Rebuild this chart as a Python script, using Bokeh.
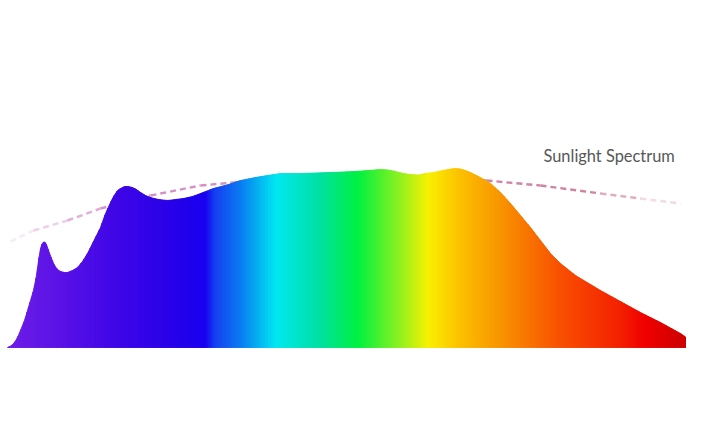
import numpy as np
from bokeh.plotting import figure
from bokeh.models import Range1d
from bokeh.core.properties import value
from bokeh.embed import file_html
from bokeh.resources import INLINE

# Spectrum curve (x in px-like units, y = height, screen coordinates)
spec_x = [7, 11, 14, 17, 20, 24, 27, 30, 33, 36, 38, 40, 42, 44, 46, 48, 51, 54, 57, 60,
          64, 67, 72, 77, 82, 87, 93, 100, 105, 110, 113, 117, 120, 124, 128, 132, 136,
          140, 145, 150, 158, 167, 175, 183, 192, 200, 213, 228, 240, 255, 267, 280, 300,
          330, 355, 380, 388, 395, 403, 410, 418, 425, 433, 440, 445, 450, 455, 460, 465,
          470, 475, 480, 485, 490, 500, 510, 520, 530, 540, 550, 560, 570, 575, 580, 590,
          600, 610, 620, 630, 640, 650, 660, 670, 680, 690, 700]
spec_y = [347, 345, 342, 337, 330, 320, 310, 300, 290, 275, 260, 248, 242, 241, 244, 250,
          258, 265, 269, 271, 272, 272, 270, 267, 261, 253, 241, 227, 213, 202, 196, 190,
          188, 186, 186, 187, 189, 192, 195, 197, 199, 200, 199, 198, 196, 193, 188, 184,
          180, 177, 175, 173, 173, 172, 171, 169, 169.5, 171, 173, 174, 174.5, 173, 172,
          170.5, 169.5, 168.5, 168, 168.5, 170, 172, 174.5, 177, 180, 183, 192, 203, 215,
          227, 240, 253, 263, 271, 275, 278, 284, 290, 295.5, 301, 306.5, 312, 317, 322,
          327.5, 333, 340, 347]
baseline = 347

# gradient colour stops along x
stop_x = [7, 60, 120, 180, 205, 215, 240, 276, 320, 358, 400, 428, 460, 500, 560, 620, 645, 700]
stop_c = ["#6e1ee6", "#5a12e6", "#3d05e6", "#2400ea", "#1800f0", "#1640f0", "#0a7af0",
          "#00e8f0", "#00e0a0", "#00f040", "#90f020", "#f8f000", "#fcc000", "#f89400",
          "#f85000", "#f42000", "#f00000", "#c00000"]

# sunlight reference curve
sun_x = [10, 33, 67, 100, 150, 200, 233, 300, 360, 420, 486, 540, 600, 640, 680]
sun_y = [241, 230, 220, 208, 195, 185, 182, 176, 174, 176, 180, 185, 193, 198, 203]
sun_c0 = "#d897d6"
sun_c1 = "#cc7f96"

label_text = "Sunlight Spectrum"


def hex2rgb(h):
    h = h.lstrip("#")
    return np.array([int(h[i:i + 2], 16) for i in (0, 2, 4)], dtype=float)


stop_rgb = np.array([hex2rgb(c) for c in stop_c])


def color_at(x):
    r = np.interp(x, stop_x, stop_rgb[:, 0])
    g = np.interp(x, stop_x, stop_rgb[:, 1])
    b = np.interp(x, stop_x, stop_rgb[:, 2])
    return "#%02x%02x%02x" % (int(round(r)), int(round(g)), int(round(b)))


W, H = 686, 410
p = figure(width=W, height=H, output_backend="svg", toolbar_location=None,
           x_range=Range1d(0, W), y_range=Range1d(H, 0), min_border=0)
p.axis.visible = False
p.grid.visible = False
p.outline_line_color = None
p.background_fill_color = "white"
p.border_fill_color = "white"

# dashed sunlight curve, fading at both ends
c0, c1 = hex2rgb(sun_c0), hex2rgb(sun_c1)
sx = np.array(sun_x, dtype=float)
xs_l, ys_l, cols, alphas = [], [], [], []
for i in range(len(sun_x) - 1):
    t = (sx[i] + sx[i + 1]) / 2
    f = (t - sx[0]) / (sx[-1] - sx[0])
    rgb = c0 * (1 - f) + c1 * f
    cols.append("#%02x%02x%02x" % tuple(int(round(v)) for v in rgb))
    edge = min(f, 1 - f)
    alphas.append(float(min(1.0, 0.1 + edge * 6.0)))
    xs_l.append([sun_x[i], sun_x[i + 1]])
    ys_l.append([sun_y[i], sun_y[i + 1]])
p.multi_line(xs_l, ys_l, line_color=cols, line_alpha=alphas, line_width=2.4,
             line_dash="6 4")

# gradient-filled spectrum area, drawn as thin vertical slices
step = 1.5
gx = np.arange(spec_x[0], spec_x[-1] + 0.001, step)
gy = np.interp(gx, spec_x, spec_y)
pxs, pys, pcs = [], [], []
for i in range(len(gx) - 1):
    x0, x1 = gx[i], gx[i + 1]
    pxs.append([x0, x1, x1, x0])
    pys.append([baseline, baseline, gy[i + 1], gy[i]])
    pcs.append(color_at((x0 + x1) / 2))
p.patches(pxs, pys, fill_color=pcs, line_color=pcs, line_width=0.9)

p.text(x=[543], y=[155], text=[label_text], text_font=value("Lato"),
       text_font_size="16.4px", text_color="#575757", text_baseline="middle")

open("out.html", "w").write(file_html(p, INLINE))
